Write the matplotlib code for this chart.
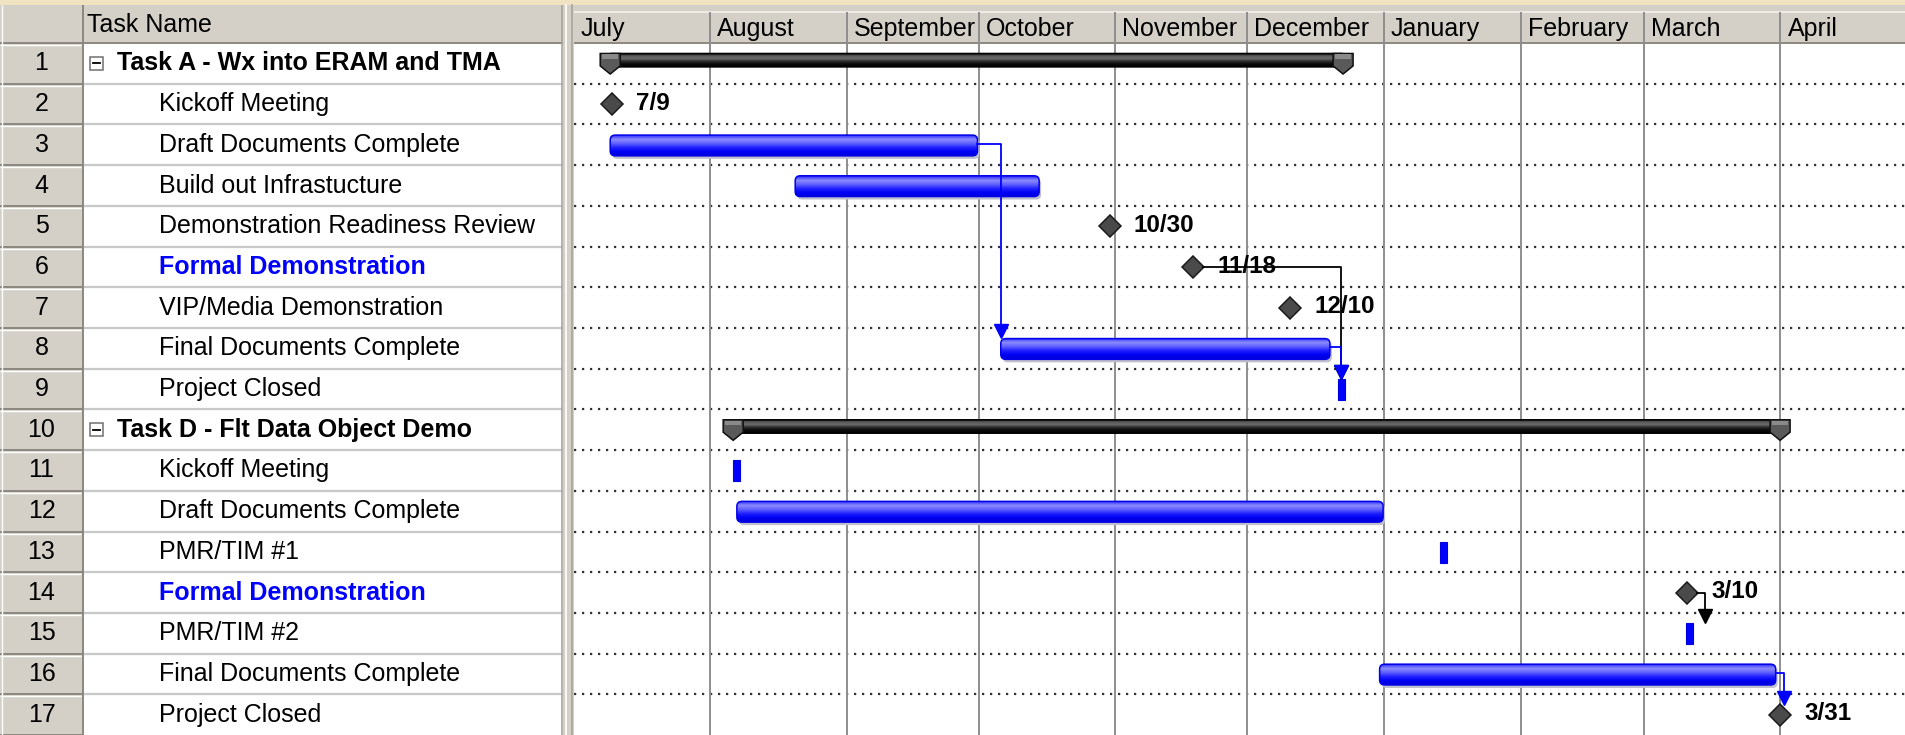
import numpy as np
import pandas as pd
import matplotlib
matplotlib.use("Agg")
import matplotlib.pyplot as plt
import matplotlib.dates as mdates
from matplotlib.patches import Rectangle, FancyBboxPatch, Polygon
from matplotlib.lines import Line2D
from matplotlib.colors import LinearSegmentedColormap

plt.rcParams['font.family'] = ['Liberation Sans', 'DejaVu Sans']

# ---------------- data ----------------
task_names = ["Task A - Wx into ERAM and TMA", "Kickoff Meeting", "Draft Documents Complete",
              "Build out Infrastucture", "Demonstration Readiness Review", "Formal Demonstration",
              "VIP/Media Demonstration", "Final Documents Complete", "Project Closed",
              "Task D - Flt Data Object Demo", "Kickoff Meeting", "Draft Documents Complete",
              "PMR/TIM #1", "Formal Demonstration", "PMR/TIM #2", "Final Documents Complete",
              "Project Closed"]
task_kind = ["summary", "milestone", "task", "task", "milestone", "milestone", "milestone", "task", "point",
             "summary", "point", "task", "point", "milestone", "point", "task", "milestone"]
task_start = ["2009-07-09 08:00", "2009-07-09 17:00", "2009-07-09 08:00", "2009-08-20 08:00",
              "2009-10-30 17:00", "2009-11-18 17:00", "2009-12-10 17:00", "2009-10-06 00:00",
              "2009-12-22 07:00", "2009-08-06 06:00", "2009-08-07 02:00", "2009-08-07 02:00",
              "2010-01-14 10:00", "2010-03-10 17:00", "2010-03-11 08:00", "2009-12-31 00:00",
              "2010-03-31 22:00"]
task_end = ["2009-12-22 17:00", None, "2009-09-30 17:00", "2009-10-14 17:00", None, None, None,
            "2009-12-19 17:00", None, "2010-03-31 22:00", None, "2009-12-31 19:00", None, None, None,
            "2010-03-30 22:00", None]
milestone_labels = ["", "7/9", "", "", "10/30", "11/18", "12/10", "", "", "", "", "", "", "3/10", "", "", "3/31"]
blue_rows = [6, 14]

link_from = [3, 6, 8, 14, 16]
link_to = [8, 9, 9, 15, 17]
link_color = ["#0000ff", "#000000", "#0000ff", "#000000", "#0000ff"]

month_names = ["July", "August", "September", "October", "November", "December",
               "January", "February", "March", "April"]
month_starts = ["2009-07-01", "2009-08-01", "2009-09-01", "2009-10-01", "2009-11-01", "2009-12-01",
                "2010-01-01", "2010-02-01", "2010-03-01", "2010-04-01"]

# ---------------- layout ----------------
W, H = 1905, 735
TOP = 5
ROW = 40.7
HDR = H - TOP - 17 * ROW
y_top = 0.5 - HDR / ROW
CH_L = 573.5
PXD = 4.405          # pixels per day
FS = 18
GRAY = '#D4D0C8'

def num(s):
    return mdates.date2num(pd.Timestamp(s))

def dx(px):
    return px / PXD

def dy(px):
    return px / ROW

fig = plt.figure(figsize=(W / 100, H / 100), dpi=100, facecolor=GRAY)
fig.add_artist(Rectangle((0, (H - TOP) / H), 1, TOP / H, transform=fig.transFigure,
                         facecolor='#EFE3C2', edgecolor='none'))
fig.add_artist(Line2D([566 / W] * 2, [0, (H - TOP) / H], transform=fig.transFigure, color='white', lw=1.2))
fig.add_artist(Line2D([572 / W] * 2, [0, (H - TOP) / H], transform=fig.transFigure, color='#A8A49C', lw=1.2))

ax_t = fig.add_axes([0, 0, 563 / W, (H - TOP) / H])
ax_c = fig.add_axes([CH_L / W, 0, (W - CH_L) / W, (H - TOP) / H])
for a in (ax_t, ax_c):
    a.set_xticks([])
    a.set_yticks([])
    for s in a.spines.values():
        s.set_visible(False)

rows = np.arange(1, 18)

# ---------------- table ----------------
ax_t.set_facecolor('white')
ax_t.add_patch(Rectangle((0, y_top), 563, 17.5 - y_top, facecolor=GRAY, edgecolor='none'))
ax_t.add_patch(Rectangle((83, 0.5), 480, 17, facecolor='white', edgecolor='none'))
ax_t.hlines(rows[:-1] + 0.5, 83, 563, color='#C8C8C8', lw=1.6)
ax_t.hlines(rows + 0.5, 0, 83, color='#8C8880', lw=1.4)
ax_t.hlines(rows - 0.5 + dy(2), 0, 81, color='white', lw=1.0)
ax_t.hlines(0.5, 0, 563, color='#8C8880', lw=1.4)
ax_t.vlines(83, y_top, 17.5, color='#8C8880', lw=1.4)
ax_t.vlines(2, y_top, 17.5, color='white', lw=1.0)
ax_t.vlines(562, y_top, 17.5, color='#A8A49C', lw=1.2)
ax_t.text(87, (y_top + 0.5) / 2 + dy(1), "Task Name", fontsize=FS, va='center', ha='left')

for r, name, kind in zip(rows, task_names, task_kind):
    ax_t.text(41.5, r, str(r), fontsize=FS, ha='center', va='center')
    if kind == 'summary':
        ax_t.add_patch(Rectangle((90, r - dy(6.5)), 13, dy(13), facecolor='white',
                                 edgecolor='#707070', lw=1.1))
        ax_t.plot([93, 100], [r] * 2, color='black', lw=1.3)
        ax_t.text(117, r, name, fontsize=FS, fontweight='bold', ha='left', va='center')
    else:
        color = '#0000ff' if r in blue_rows else 'black'
        weight = 'bold' if r in blue_rows else 'normal'
        ax_t.text(159, r, name, fontsize=FS, fontweight=weight, color=color, ha='left', va='center')
ax_t.set_xlim(0, 563)
ax_t.set_ylim(17.5, y_top)

# ---------------- chart grid ----------------
x_lo = num(month_starts[0])
x_hi = x_lo + (W - CH_L) / PXD
ax_c.set_facecolor('white')
ax_c.add_patch(Rectangle((x_lo, y_top), x_hi - x_lo, 0.5 - y_top, facecolor=GRAY, edgecolor='none', zorder=1))
ax_c.hlines(y_top + dy(7), x_lo, x_hi, color='#F4F2EE', lw=1.2, zorder=2)
ax_c.hlines(0.5, x_lo, x_hi, color='#8C8880', lw=1.4, zorder=2)
ax_c.hlines(rows[:-1] + 0.5, x_lo, x_hi, color='#303030', lw=1.6, linestyles=(0, (1, 2.6)), zorder=2)
for m, name in zip(month_starts, month_names):
    xm = num(m)
    if xm > x_lo:
        ax_c.vlines(xm, y_top + dy(7), 17.5, color='#8E8E8E', lw=1.4, zorder=2)
    ax_c.text(xm + dx(7), (y_top + 0.5) / 2 + dy(4.5), name, fontsize=FS, ha='left', va='center', zorder=3)


def grad_box(x0, x1, yc, h, colors, rad_px, edge, z):
    patch = FancyBboxPatch((x0, yc - h / 2), x1 - x0, h,
                           boxstyle="round,pad=0,rounding_size=%f" % dx(rad_px),
                           mutation_aspect=PXD / ROW, facecolor='none', edgecolor=edge, lw=1.1, zorder=z + 0.1)
    ax_c.add_patch(patch)
    cm = LinearSegmentedColormap.from_list('g', colors)
    im = ax_c.imshow(np.linspace(0, 1, 64).reshape(-1, 1), cmap=cm, aspect='auto',
                     extent=(x0, x1, yc + h / 2, yc - h / 2), origin='upper',
                     interpolation='bilinear', zorder=z)
    im.set_clip_path(patch)


blue_grad = ['#2a2aff', '#8c8cff', '#6060ff', '#2020ff', '#0000f4', '#0000d8']
dark_grad = ['#000000', '#5a5a5a', '#6a6a6a', '#2a2a2a', '#0a0a0a', '#000000']

starts = [num(s) for s in task_start]
ends = [num(e) if e is not None else None for e in task_end]

for r, kind, s, e, lab in zip(rows, task_kind, starts, ends, milestone_labels):
    if kind == 'task':
        ax_c.add_patch(FancyBboxPatch((s + dx(2), r - 0.24 + dy(3)), e - s, 0.51,
                                      boxstyle="round,pad=0,rounding_size=%f" % dx(5),
                                      mutation_aspect=PXD / ROW, facecolor='#C0C0CC',
                                      edgecolor='none', zorder=3))
        grad_box(s, e, r + 0.015, 0.51, blue_grad, 5, '#0000e8', 4)
    elif kind == 'summary':
        grad_box(s, e, r - 0.08, 0.33, dark_grad, 1, 'black', 4)
        for c in (s, e):
            hw = dx(10)
            ax_c.add_patch(Polygon([(c - hw, r - 0.245), (c + hw, r - 0.245), (c + hw, r + 0.06),
                                    (c, r + 0.26), (c - hw, r + 0.06)], closed=True,
                                   facecolor='#5a5a5a', edgecolor='#101010', lw=1.1, zorder=5))
            ax_c.add_patch(Rectangle((c - hw + dx(2), r - 0.22), 2 * hw - dx(4), 0.1,
                                     facecolor='#8a8a8a', edgecolor='none', zorder=5.1))
    elif kind == 'point':
        ax_c.add_patch(Rectangle((s - dx(3.5), r - 0.25), dx(7), 0.52, facecolor='#0000ff',
                                 edgecolor='#0000e0', lw=0.8, zorder=4))
    else:
        ax_c.plot([s], [r], marker='D', ms=11.5, mfc='#4a4a4a', mec='#1a1a1a', mew=1.1,
                  linestyle='none', zorder=6)
        ax_c.annotate(lab, (s, r), xytext=(17.5, 0.5), textcoords='offset points', fontsize=17.5,
                      fontweight='bold', ha='left', va='center', zorder=7)

# ---------------- links ----------------
for f, t, col in zip(link_from, link_to, link_color):
    fi, ti = f - 1, t - 1
    if task_kind[fi] == 'milestone':
        src = starts[fi] + dx(10)
        ys = f
    else:
        src = ends[fi]
        ys = f - 0.03
    tx = starts[ti]
    lx = max(tx, src + dx(8))
    ttop = t - 0.26
    ax_c.plot([src, lx, lx], [ys, ys, ttop - dy(3)], color=col, lw=1.3, zorder=7,
              solid_joinstyle='round')
    ax_c.plot([lx], [ttop - dy(6.5)], marker='v', ms=10, color=col, mec=col, zorder=7)

ax_c.set_xlim(x_lo, x_hi)
ax_c.set_ylim(17.5, y_top)

fig.savefig("out.png", dpi=100, facecolor=fig.get_facecolor())
